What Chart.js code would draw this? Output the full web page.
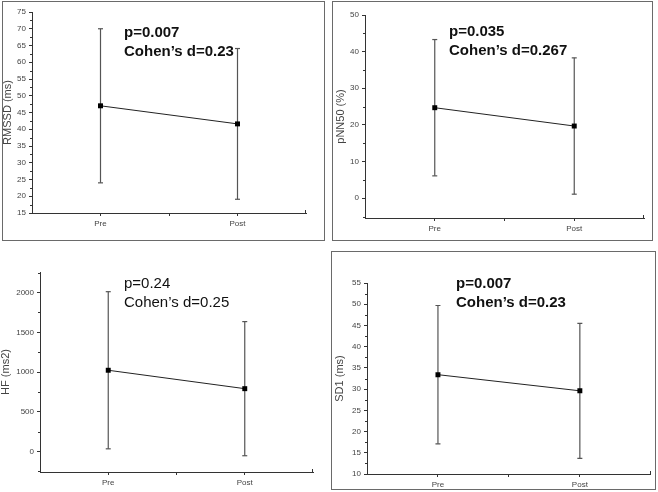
<!DOCTYPE html>
<html>
<head>
<meta charset="utf-8">
<script src="https://cdn.jsdelivr.net/npm/chart.js@4.4.1/dist/chart.umd.min.js"></script>
<style>
  body { margin:0; background:#fff; width:658px; height:492px; position:relative; overflow:hidden; font-family:"Liberation Sans", Arial, sans-serif; }
  .box { position:absolute; border:1.5px solid #6a6a6a; box-sizing:border-box; }
  canvas { position:absolute; }
  .note { position:absolute; font-size:15px; line-height:18.5px; color:#111; white-space:nowrap; }
  .b { font-weight:bold; }
</style>
</head>
<body>
<div class="box" style="left:2px;top:1px;width:323px;height:240px"></div>
<div class="box" style="left:332px;top:1px;width:321px;height:240px"></div>
<div class="box" style="left:331px;top:251px;width:325px;height:239px"></div>

<canvas id="chart-1"></canvas>
<canvas id="chart-2"></canvas>
<canvas id="chart-3"></canvas>
<canvas id="chart-4"></canvas>

<div class="note b" style="left:124px;top:23px">p=0.007<br>Cohen’s d=0.23</div>
<div class="note b" style="left:449px;top:22px">p=0.035<br>Cohen’s d=0.267</div>
<div class="note" style="left:124px;top:274px">p=0.24<br>Cohen’s d=0.25</div>
<div class="note b" style="left:456px;top:274px">p=0.007<br>Cohen’s d=0.23</div>

<script>
const categories = ['Pre', 'Post'];

const rmssdMean = [47, 41.6];
const rmssdSd = [23, 22.5];
const rmssdTicks = [15, 20, 25, 30, 35, 40, 45, 50, 55, 60, 65, 70, 75];

const pnn50Mean = [24.7, 19.7];
const pnn50Sd = [18.6, 18.6];
const pnn50Ticks = [0, 10, 20, 30, 40, 50];

const hfMean = [1022, 790];
const hfSd = [990, 845];
const hfTicks = [0, 500, 1000, 1500, 2000];

const sd1Mean = [33.4, 29.6];
const sd1Sd = [16.3, 15.9];
const sd1Ticks = [10, 15, 20, 25, 30, 35, 40, 45, 50, 55];

// small in-between ticks on the y axis + end tick on x axis
const minorTicks = {
  id: 'minorTicks',
  afterDraw(chart, args, opts) {
    const y = chart.scales.y, x = chart.scales.x, ctx = chart.ctx;
    ctx.save();
    ctx.strokeStyle = '#333';
    ctx.lineWidth = 1;
    ctx.beginPath();
    const start = Math.ceil(y.min / opts.step) * opts.step;
    for (let v = start; v <= y.max + 1e-9; v += opts.step) {
      if (y.ticks.some(t => Math.abs(t.value - v) < 1e-9)) continue;
      const py = Math.round(y.getPixelForValue(v)) + 0.5;
      ctx.moveTo(y.right - 2, py);
      ctx.lineTo(y.right, py);
    }
    const px = Math.round(x.getPixelForValue(x.max)) - 0.5;
    ctx.moveTo(px, x.top);
    ctx.lineTo(px, x.top - 3);
    ctx.stroke();
    ctx.restore();
  }
};

const tickFont = {family: '"Liberation Sans", Arial, sans-serif', size: 8};

function makeChart(p, means, sds, yTicks, title) {
  const canvas = document.getElementById(p.id);
  canvas.style.left = p.left + 'px';
  canvas.style.top = p.top + 'px';
  canvas.width = p.w;
  canvas.height = p.h;

  const xs = categories.map((c, i) => i + 1);
  const datasets = [];
  means.forEach((m, i) => {
    datasets.push({
      data: [{x: xs[i], y: m - sds[i]}, {x: xs[i], y: m + sds[i]}],
      borderColor: '#555',
      borderWidth: 1.2,
      pointStyle: 'line',
      pointRadius: 2.5,
      pointBorderColor: '#555',
      pointBorderWidth: 1.2,
      order: 2
    });
  });
  datasets.push({
    data: means.map((m, i) => ({x: xs[i], y: m})),
    borderColor: '#222',
    borderWidth: 1,
    pointStyle: 'rect',
    pointRadius: 3.5,
    pointBackgroundColor: '#000',
    pointBorderColor: '#000',
    pointBorderWidth: 0,
    order: 1
  });

  new Chart(canvas, {
    type: 'line',
    data: {datasets: datasets},
    plugins: [minorTicks],
    options: {
      responsive: false,
      animation: false,
      layout: {
        padding: {left: 0, top: p.areaTop - p.top, right: p.left + p.w - p.areaRight, bottom: 0}
      },
      plugins: {
        legend: {display: false},
        tooltip: {enabled: false},
        minorTicks: {step: p.minor}
      },
      scales: {
        x: {
          type: 'linear',
          min: 0.5,
          max: 2.5,
          afterBuildTicks: s => { s.ticks = [1, 1.5, 2].map(v => ({value: v})); },
          afterFit: s => { s.height = p.top + p.h - p.areaBottom; },
          ticks: {
            callback: v => categories[xs.indexOf(v)] || '',
            font: tickFont, color: '#444', padding: 3, maxRotation: 0, autoSkip: false
          },
          grid: {drawOnChartArea: false, tickLength: 3, tickColor: '#333'},
          border: {color: '#333', width: 1}
        },
        y: {
          min: p.ymin,
          max: p.ymax,
          afterBuildTicks: s => { s.ticks = yTicks.map(v => ({value: v})); },
          afterFit: s => { s.width = p.areaLeft - p.left; },
          ticks: {callback: v => String(v), font: tickFont, color: '#444', padding: 3, autoSkip: false},
          grid: {drawOnChartArea: false, tickLength: 3, tickColor: '#333'},
          border: {color: '#333', width: 1},
          title: {
            display: true, text: title, color: '#444',
            font: {family: '"Liberation Sans", Arial, sans-serif', size: 11, lineHeight: 1},
            padding: {top: p.titlePad, bottom: 0}
          }
        }
      }
    }
  });
}

makeChart({id: 'chart-1', left: 2, top: 1, w: 323, h: 240, areaLeft: 32, areaRight: 306, areaTop: 12, areaBottom: 213,
  ymin: 15, ymax: 75, minor: 2.5, titlePad: 0}, rmssdMean, rmssdSd, rmssdTicks, 'RMSSD (ms)');
makeChart({id: 'chart-2', left: 332, top: 1, w: 321, h: 240, areaLeft: 365, areaRight: 644, areaTop: 15, areaBottom: 218,
  ymin: -5.4, ymax: 50, minor: 5, titlePad: 3.2}, pnn50Mean, pnn50Sd, pnn50Ticks, 'pNN50 (%)');
makeChart({id: 'chart-3', left: 0, top: 250, w: 330, h: 242, areaLeft: 40, areaRight: 313, areaTop: 272, areaBottom: 472,
  ymin: -260, ymax: 2260, minor: 250, titlePad: 0.5}, hfMean, hfSd, hfTicks, 'HF (ms2)');
makeChart({id: 'chart-4', left: 331, top: 251, w: 325, h: 239, areaLeft: 367, areaRight: 651, areaTop: 283, areaBottom: 474,
  ymin: 10, ymax: 55, minor: 2.5, titlePad: 3.2}, sd1Mean, sd1Sd, sd1Ticks, 'SD1 (ms)');
</script>
</body>
</html>
